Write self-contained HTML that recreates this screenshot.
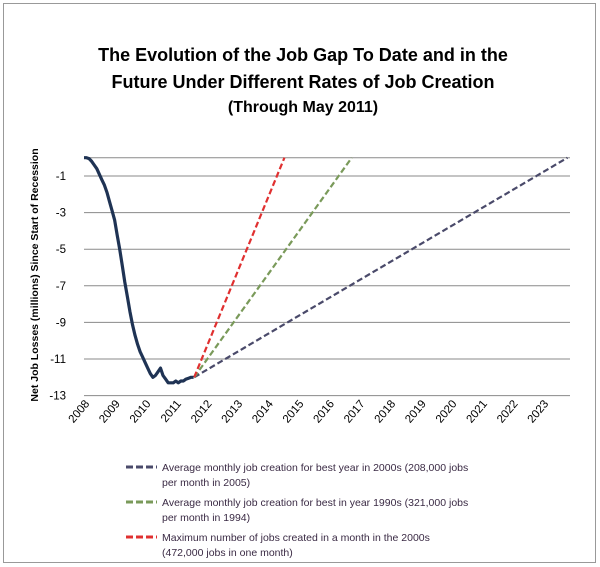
<!DOCTYPE html>
<html><head><meta charset="utf-8"><style>
body{margin:0;background:#fff;}
svg{display:block;font-family:"Liberation Sans",sans-serif;}
</style></head><body>
<svg width="600" height="567" viewBox="0 0 600 567">
<rect x="3.5" y="3.5" width="592" height="559" fill="#fff" stroke="#999"/>
<g font-weight="bold" fill="#000" text-anchor="middle">
<text x="303" y="61" font-size="18">The Evolution of the Job Gap To Date and in the</text>
<text x="303" y="88" font-size="18">Future Under Different Rates of Job Creation</text>
<text x="303" y="112" font-size="16">(Through May 2011)</text>
</g>
<text transform="translate(38,275) rotate(-90)" text-anchor="middle" font-size="10.5" font-weight="bold">Net Job Losses (millions) Since Start of Recession</text>
<g id="grid"></g><g id="ylabels"></g><g id="xlabels"></g><g id="series"></g>
<g font-size="10.5" fill="#3a2a44">
<line x1="126" y1="467" x2="157" y2="467" stroke="#4a4a6a" stroke-width="3" stroke-dasharray="7,3"/>
<text x="162" y="471">Average monthly job creation for best year in 2000s (208,000 jobs</text>
<text x="162" y="486">per month in 2005)</text>
<line x1="126" y1="502" x2="157" y2="502" stroke="#7a9a5a" stroke-width="3" stroke-dasharray="7,3"/>
<text x="162" y="506">Average monthly job creation for best in year 1990s (321,000 jobs</text>
<text x="162" y="521">per month in 1994)</text>
<line x1="126" y1="537" x2="157" y2="537" stroke="#e03030" stroke-width="3" stroke-dasharray="7,3"/>
<text x="162" y="541">Maximum number of jobs created in a month  in the 2000s</text>
<text x="162" y="556">(472,000 jobs in one month)</text>
</g>
</svg>
<script>
const yTicks=[-1,-3,-5,-7,-9,-11,-13];
const gridVals=[0,-1,-3,-5,-7,-9,-11,-13];
const years=[2008,2009,2010,2011,2012,2013,2014,2015,2016,2017,2018,2019,2020,2021,2022,2023];
const actualStart=2008;
const actualMonthly=[0,0,-0.05,-0.2,-0.4,-0.6,-0.9,-1.2,-1.5,-1.9,-2.4,-2.9,
-3.4,-4.2,-5.0,-5.9,-6.8,-7.6,-8.4,-9.1,-9.7,-10.2,-10.6,-10.9,
-11.2,-11.5,-11.8,-12.0,-11.9,-11.7,-11.5,-11.9,-12.1,-12.3,-12.3,-12.3,
-12.2,-12.3,-12.2,-12.2,-12.1,-12.05,-12.0,-12.0];
const projStartYear=2011.6, projStartVal=-12.0;
const projNames=['projection-2000s','projection-1990s','projection-max'];
const projEndYears=[2023.8,2016.75,2014.55];
const projEndVals=[0,0,0];
const projColors=['#4a4a6a','#7a9a5a','#e03030'];
const X=y=>84+(y-2008)*30.6;
const Y=v=>157.7-v*18.3;
const NS='http://www.w3.org/2000/svg';
function mk(p,t,a){const e=document.createElementNS(NS,t);for(const k in a)e.setAttribute(k,a[k]);p.appendChild(e);return e;}
const g=document.getElementById('grid'),yl=document.getElementById('ylabels'),xl=document.getElementById('xlabels'),s=document.getElementById('series');
gridVals.forEach(v=>{const l=mk(g,'line',{x1:84,x2:570,y1:Y(v),y2:Y(v),stroke:'#8a8a8a','stroke-width':1});

});
yTicks.forEach(v=>{const t=mk(yl,'text',{x:66,y:Y(v)+4,'text-anchor':'end','font-size':11.5});t.textContent=v;

});
years.forEach(yr=>{const x=X(yr)+6,y=404;const t=mk(xl,'text',{x:x,y:y,'text-anchor':'end','font-size':11.5,transform:`rotate(-50 ${x} ${y})`});t.textContent=yr;

});
projEndYears.forEach((ey,i)=>{const l=mk(s,'line',{x1:X(projStartYear),y1:Y(projStartVal),x2:X(ey),y2:Y(projEndVals[i]),stroke:projColors[i],'stroke-width':2.2,'stroke-dasharray':'6,3'});

});
const pts=actualMonthly.map((v,i)=>X(actualStart+i/12).toFixed(1)+','+Y(v).toFixed(1)).join(' ');
const pl=mk(s,'polyline',{points:pts,fill:'none',stroke:'#1f3354','stroke-width':3.2,'stroke-linejoin':'round'});


</script>
</body></html>
